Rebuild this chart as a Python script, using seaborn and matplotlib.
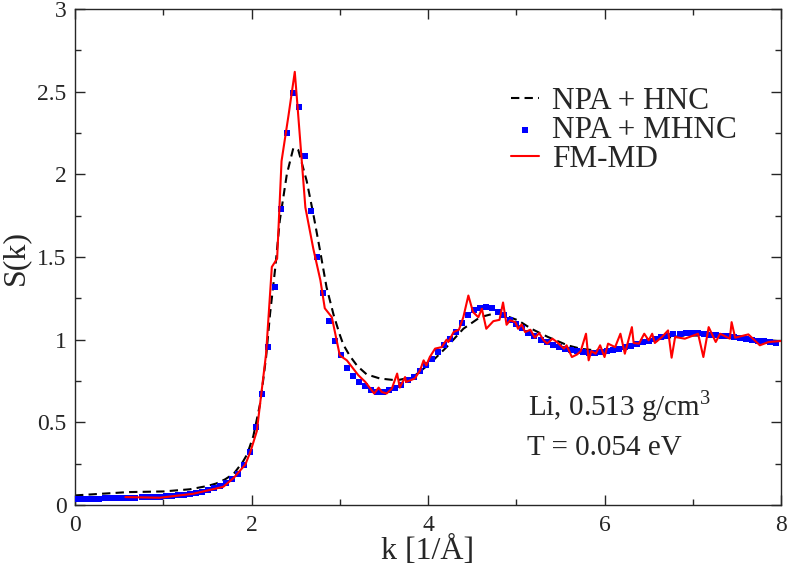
import numpy as np
import pandas as pd
import seaborn as sns
import matplotlib.pyplot as plt
from matplotlib.ticker import MultipleLocator, FuncFormatter

# NPA + HNC (smooth dashed curve)
k_hnc = [0.0, 0.3, 0.6, 1.0, 1.3, 1.5, 1.6, 1.7, 1.8, 1.9, 1.95, 2.02, 2.1, 2.165,
         2.21, 2.27, 2.32, 2.4, 2.474, 2.53, 2.625, 2.7, 2.776, 2.85, 2.93, 3.0,
         3.04, 3.116, 3.2, 3.305, 3.456, 3.645, 3.83, 4.02, 4.21, 4.4, 4.59, 4.74,
         4.82, 5.02, 5.17, 5.36, 5.58, 5.73, 5.9, 6.1, 6.35, 6.63, 6.9, 7.2, 7.5,
         7.8, 8.0]
s_hnc = [0.058, 0.068, 0.078, 0.082, 0.095, 0.115, 0.13, 0.155, 0.19, 0.26, 0.306,
         0.416, 0.62, 0.895, 1.157, 1.44, 1.72, 2.0, 2.16, 2.147, 1.96, 1.76, 1.54,
         1.317, 1.15, 1.03, 0.97, 0.9, 0.84, 0.79, 0.765, 0.754, 0.774, 0.855,
         0.955, 1.066, 1.136, 1.157, 1.157, 1.117, 1.066, 1.016, 0.966, 0.945,
         0.935, 0.94, 0.966, 1.006, 1.025, 1.025, 1.01, 0.998, 0.99]

# NPA + MHNC (blue squares)
k_mhnc = [0.0, 0.0685, 0.137, 0.2055, 0.274, 0.3425, 0.411, 0.4795, 0.548, 0.6165,
          0.685, 0.7535, 0.822, 0.8905, 0.959, 1.0275, 1.096, 1.1645, 1.233, 1.3015,
          1.37, 1.4385, 1.507, 1.5755, 1.644, 1.7125, 1.781, 1.8495, 1.918, 1.9865,
          2.055, 2.1235, 2.192, 2.2605, 2.329, 2.3975, 2.466, 2.5345, 2.603, 2.6715,
          2.74, 2.8085, 2.877, 2.9455, 3.014, 3.0825, 3.151, 3.2195, 3.288, 3.3565,
          3.425, 3.4935, 3.562, 3.6305, 3.699, 3.7675, 3.836, 3.9045, 3.973, 4.0415,
          4.11, 4.1785, 4.247, 4.3155, 4.384, 4.4525, 4.521, 4.5895, 4.658, 4.7265,
          4.795, 4.8635, 4.932, 5.0005, 5.069, 5.1375, 5.206, 5.2745, 5.343, 5.4115,
          5.48, 5.5485, 5.617, 5.6855, 5.754, 5.8225, 5.891, 5.9595, 6.028, 6.0965,
          6.165, 6.2335, 6.302, 6.3705, 6.439, 6.5075, 6.576, 6.6445, 6.713, 6.7815,
          6.85, 6.9185, 6.987, 7.0555, 7.124, 7.1925, 7.261, 7.3295, 7.398, 7.4665,
          7.535, 7.6035, 7.672, 7.7405, 7.809, 7.8775, 7.946]
s_mhnc = [0.035, 0.036, 0.037, 0.038, 0.039, 0.04, 0.041, 0.042, 0.043, 0.044,
          0.045, 0.046, 0.047, 0.048, 0.05, 0.052, 0.055, 0.058, 0.062, 0.067,
          0.073, 0.08, 0.089, 0.1, 0.114, 0.132, 0.156, 0.19, 0.24, 0.32,
          0.47, 0.67, 0.955, 1.32, 1.79, 2.25, 2.49, 2.41, 2.11, 1.78,
          1.5, 1.28, 1.11, 0.99, 0.905, 0.83, 0.778, 0.744, 0.718, 0.698,
          0.686, 0.686, 0.694, 0.71, 0.728, 0.754, 0.774, 0.81, 0.845, 0.885,
          0.925, 0.966, 1.006, 1.046, 1.1, 1.15, 1.178, 1.193, 1.197, 1.19,
          1.17, 1.148, 1.122, 1.095, 1.068, 1.043, 1.02, 1.0, 0.983, 0.967,
          0.953, 0.943, 0.935, 0.929, 0.925, 0.922, 0.922, 0.925, 0.93, 0.936,
          0.944, 0.953, 0.963, 0.973, 0.983, 0.993, 1.005, 1.015, 1.025, 1.032,
          1.037, 1.04, 1.04, 1.038, 1.035, 1.031, 1.027, 1.023, 1.02, 1.016,
          1.012, 1.006, 1.0, 0.995, 0.99, 0.986, 0.982]

# FM-MD (noisy red line)
k_md = [0.57, 0.96, 1.34, 1.68, 1.8, 1.93, 1.99, 2.06, 2.165, 2.23, 2.29, 2.34,
        2.42, 2.49, 2.52, 2.61, 2.7, 2.78, 2.83, 2.91, 3.0, 3.08, 3.21, 3.29, 3.39,
        3.44, 3.475, 3.53, 3.59, 3.65, 3.68, 3.74, 3.75, 3.85, 3.91, 3.95, 3.98,
        4.02, 4.08, 4.155, 4.21, 4.23, 4.29, 4.35, 4.4, 4.457, 4.51, 4.57, 4.61,
        4.66, 4.74, 4.81, 4.85, 4.89, 4.93, 4.99, 5.02, 5.06, 5.1, 5.16, 5.21,
        5.26, 5.31, 5.35, 5.41, 5.46, 5.5, 5.54, 5.57, 5.63, 5.69, 5.73, 5.79,
        5.82, 5.85, 5.9, 5.95, 6.0, 6.04, 6.12, 6.18, 6.23, 6.31, 6.33, 6.39,
        6.45, 6.5, 6.54, 6.57, 6.65, 6.72, 6.76, 6.8, 6.91, 7.06, 7.12, 7.18,
        7.26, 7.31, 7.42, 7.44, 7.48, 7.63, 7.76, 7.86, 8.0]
s_md = [0.048, 0.044, 0.068, 0.11, 0.165, 0.245, 0.326, 0.447, 0.915, 1.44, 1.49,
        2.08, 2.36, 2.62, 2.42, 1.8, 1.55, 1.36, 1.19, 1.136, 0.905, 0.875, 0.785,
        0.744, 0.674, 0.71, 0.684, 0.674, 0.704, 0.795, 0.71, 0.774, 0.744, 0.765,
        0.815, 0.875, 0.845, 0.895, 0.946, 0.955, 1.0, 0.986, 1.046, 1.06, 1.136,
        1.267, 1.167, 1.136, 1.187, 1.066, 1.112, 1.12, 1.225, 1.09, 1.117, 1.106,
        1.066, 1.092, 1.046, 1.06, 1.012, 1.04, 0.996, 0.976, 1.006, 0.986, 0.966,
        0.946, 0.966, 0.895, 0.911, 0.931, 1.036, 0.875, 0.931, 0.915, 0.966,
        0.895, 0.976, 0.955, 1.036, 0.915, 1.076, 0.98, 0.976, 1.036, 0.996,
        1.036, 0.98, 1.016, 1.056, 0.891, 1.016, 1.006, 1.036, 0.895, 1.076,
        0.986, 1.036, 1.006, 1.106, 1.012, 1.032, 0.966, 0.986, 0.992]

sns.set_style("ticks")
plt.rcParams['font.family'] = ['Liberation Serif', 'DejaVu Serif']
plt.rcParams['mathtext.fontset'] = 'custom'
plt.rcParams['mathtext.rm'] = 'Liberation Serif'

hnc = pd.DataFrame({"k": k_hnc, "S": s_hnc})
mhnc = pd.DataFrame({"k": k_mhnc, "S": s_mhnc})
md = pd.DataFrame({"k": k_md, "S": s_md})

fig = plt.figure(figsize=(7.89, 5.74), dpi=100)
ax = fig.add_axes([0.0951, 0.1202, 0.8948, 0.8641])

sns.lineplot(data=hnc, x="k", y="S", ax=ax, color="black", lw=1.5,
             linestyle=(0, (4, 2.5)), label="NPA + HNC")
sns.scatterplot(data=mhnc, x="k", y="S", ax=ax, color="#0000ff", marker="s",
                s=24, linewidth=0, label="NPA + MHNC", zorder=3)
sns.lineplot(data=md, x="k", y="S", ax=ax, color="red", lw=1.5,
             label="FM-MD", zorder=4)

ax.set_xlim(0, 8)
ax.set_ylim(0, 3)
ax.xaxis.set_major_locator(MultipleLocator(2))
ax.xaxis.set_minor_locator(MultipleLocator(1))
ax.yaxis.set_major_locator(MultipleLocator(0.5))
ax.yaxis.set_minor_locator(MultipleLocator(0.25))
fmt = FuncFormatter(lambda v, p: "%g" % v)
ax.xaxis.set_major_formatter(fmt)
ax.yaxis.set_major_formatter(fmt)
ax.tick_params(which="both", direction="in", top=True, right=True, width=1)
ax.tick_params(which="major", length=7, labelsize=17)
ax.tick_params(which="minor", length=4.5)
ax.tick_params(axis="x", which="major", pad=7)
ax.tick_params(axis="y", which="major", pad=6)
for sp in ax.spines.values():
    sp.set_linewidth(1)

ax.set_xlabel("k [1/Å]", fontsize=23, labelpad=0)
ax.set_ylabel("S(k)", fontsize=23, labelpad=5)

ax.legend(loc="upper left", bbox_to_anchor=(0.617, 0.842), frameon=False,
          fontsize=22.5, borderaxespad=0, borderpad=0, labelspacing=0.0,
          handlelength=0.9, handletextpad=0.42)

ax.text(5.13, 0.60, "Li, 0.513 g/cm$^3$", fontsize=21, va="center")
ax.text(5.12, 0.345, "T = 0.054 eV", fontsize=21, va="center")

fig.savefig("out.png", dpi=100)
